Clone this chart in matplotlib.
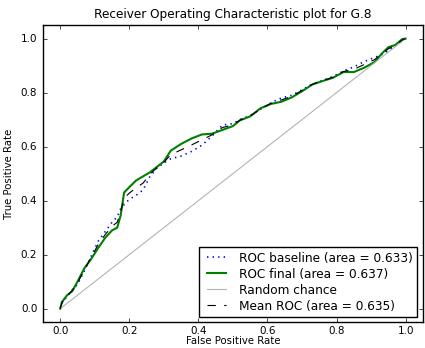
import numpy as np
import matplotlib.pyplot as plt

plt.style.use('classic')

# ROC curves
fpr = [0.0, 0.005, 0.02, 0.035, 0.05, 0.07, 0.09, 0.11, 0.13, 0.15, 0.165, 0.175,
       0.185, 0.2, 0.22, 0.24, 0.26, 0.28, 0.3, 0.32, 0.35, 0.38, 0.41, 0.44, 0.47,
       0.5, 0.52, 0.55, 0.58, 0.61, 0.64, 0.67, 0.7, 0.73, 0.76, 0.79, 0.82, 0.85,
       0.88, 0.91, 0.93, 0.95, 0.97, 0.99, 1.0]

tpr_final = [0.0, 0.025, 0.05, 0.065, 0.10, 0.15, 0.185, 0.225, 0.262, 0.29, 0.30, 0.345,
             0.43, 0.45, 0.475, 0.49, 0.505, 0.525, 0.545, 0.585, 0.61, 0.63, 0.645, 0.648,
             0.662, 0.676, 0.697, 0.712, 0.742, 0.758, 0.766, 0.782, 0.805, 0.83, 0.843,
             0.855, 0.876, 0.876, 0.892, 0.913, 0.943, 0.968, 0.976, 0.998, 1.0]

tpr_baseline = [0.0, 0.02, 0.045, 0.07, 0.09, 0.14, 0.195, 0.25, 0.285, 0.32, 0.34, 0.37,
                0.385, 0.405, 0.42, 0.44, 0.49, 0.52, 0.54, 0.555, 0.565, 0.582, 0.605, 0.64,
                0.68, 0.685, 0.70, 0.715, 0.738, 0.762, 0.78, 0.79, 0.81, 0.832, 0.845,
                0.86, 0.88, 0.895, 0.915, 0.93, 0.94, 0.955, 0.975, 0.99, 1.0]

tpr_mean = [0.0, 0.022, 0.048, 0.068, 0.095, 0.145, 0.19, 0.238, 0.274, 0.305, 0.32, 0.358,
            0.408, 0.428, 0.448, 0.465, 0.498, 0.522, 0.542, 0.57, 0.588, 0.606, 0.625, 0.644,
            0.671, 0.68, 0.698, 0.713, 0.74, 0.76, 0.773, 0.786, 0.808, 0.831, 0.844,
            0.857, 0.878, 0.886, 0.904, 0.922, 0.942, 0.962, 0.976, 0.994, 1.0]

auc_baseline = 0.633
auc_final = 0.637
auc_mean = 0.635

fig = plt.figure(figsize=(4.25, 3.48), dpi=100)
ax = fig.add_axes([0.101, 0.074, 0.894, 0.854])

ax.plot(fpr, tpr_baseline, color='b', linestyle=':', lw=1.2,
        label='ROC baseline (area = %0.3f)' % auc_baseline)
ax.plot(fpr, tpr_final, color='g', lw=1.5,
        label='ROC final (area = %0.3f)' % auc_final)
ax.plot([0, 1], [0, 1], color='0.7', lw=0.8, label='Random chance')
ax.plot(fpr, tpr_mean, 'k--', lw=0.8,
        label='Mean ROC (area = %0.3f)' % auc_mean)

ax.set_xlim(-0.05, 1.05)
ax.set_ylim(-0.05, 1.05)
ax.set_xticks(np.arange(0, 1.01, 0.2))
ax.set_yticks(np.arange(0, 1.01, 0.2))
ax.tick_params(labelsize=7.5, length=3)
ax.tick_params(axis='x', pad=2.5)
ax.set_xlabel('False Positive Rate', fontsize=7.3, labelpad=0)
ax.set_ylabel('True Positive Rate', fontsize=7.3, labelpad=5)
ax.set_title('Receiver Operating Characteristic plot for G.8', fontsize=8.7, y=1.0)
ax.legend(loc='lower right', fontsize=8.7, handlelength=2.2, borderpad=0.35,
          labelspacing=0.25, handletextpad=0.8, fancybox=False,
          borderaxespad=0.45)

fig.savefig('out.png', dpi=100)
